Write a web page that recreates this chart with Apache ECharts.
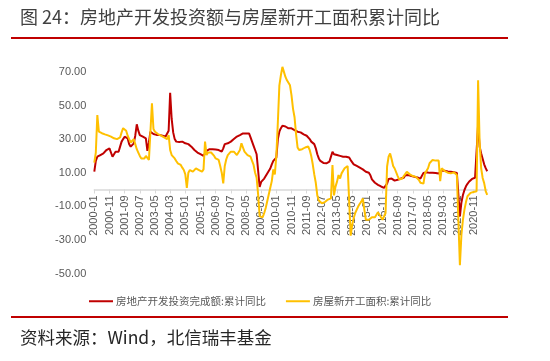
<!DOCTYPE html>
<html>
<head>
<meta charset="utf-8">
<script src="https://cdn.jsdelivr.net/npm/echarts@6/dist/echarts.min.js"></script>
<style>
html,body{margin:0;padding:0;background:#fff;}
#c{width:550px;height:361px;}
</style>
</head>
<body>
<div id="c"></div>
<script>
// ---- data (monthly, 2000-01 .. 2021-08) ----
var startYear = 2000, startMonth = 1, monthCount = 260;
var titleText = '图 24：房地产开发投资额与房屋新开工面积累计同比';
var sourceText = '资料来源：Wind，北信瑞丰基金';
var seriesNames = ['房地产开发投资完成额:累计同比', '房屋新开工面积:累计同比'];
var yTickLabels = [-50, -30, -10, 10, 30, 50, 70];

// 房地产开发投资完成额:累计同比
var investYoY = [
  10.6, 17, 19.5, 20, 20.5, 21, 21.5, 22.5, 23.5, 24.5, 24.5, 23.5,      // 2000
  19.5, 21, 22.5, 22.5, 22.5, 25.5, 28.5, 30, 31.4, 31, 30.4, 27,        // 2001
  25.5, 26.5, 27.5, 32, 38.8, 35, 32.4, 32, 31.4, 31, 30.4, 23,          // 2002
  28, 34.4, 33.5, 33, 33, 32.5, 32.4, 32.5, 32.4, 32, 31.4, 31.5,        // 2003
  32, 35, 57.6, 42, 34, 30, 28.5, 28, 28.3, 28.5, 28.5, 28,              // 2004
  27.5, 27.5, 27, 26.5, 25.5, 24.5, 23.5, 22.5, 22, 21.5, 21, 20.5,      // 2005
  20, 21.5, 23, 24, 24, 24, 24, 24, 23.8, 23.5, 23.5, 23,                // 2006
  22.5, 24.5, 27, 27.5, 27.5, 28, 28.5, 29.5, 30, 30.4, 31.5, 32.4,      // 2007
  32.4, 32, 33.4, 33, 33.4, 33.4, 33.4, 31, 28.5, 26, 23.5, 21,          // 2008
  20.5, 1.5, 4.5, 5, 6.5, 8, 9.5, 10.6, 12.5, 15, 17, 18,                // 2009
  19, 30, 34.4, 36.5, 38, 38, 37.5, 36.8, 36.4, 36.4, 36.4, 35.8,        // 2010
  35.4, 35, 34.4, 34.2, 34, 33.5, 32.8, 32.5, 32, 31.4, 30, 28.5,        // 2011
  28.5, 27, 24.5, 21, 18.5, 17, 16.2, 15.8, 15.6, 15.6, 16.2, 16.6,      // 2012
  17, 22.5, 21, 21, 20.5, 20.5, 20, 19.5, 19.5, 19.5, 19.5, 19.5,        // 2013
  19, 17.5, 16.5, 15, 14.5, 14, 13.6, 13, 12.6, 12, 11, 10.6,            // 2014
  10.4, 10, 8.5, 6, 5, 4, 3.5, 2.8, 2.3, 1.8, 1.2, 1,                    // 2015
  1, 3.5, 6.3, 6.8, 6.5, 6, 5.3, 5.3, 5.8, 6.3, 6.5, 6.9,                // 2016
  7, 8.5, 8.8, 8.6, 8.3, 8, 7.8, 7.6, 7.5, 7.2, 6.8, 6.5,                // 2017
  7, 9.9, 10.4, 10.3, 10.2, 9.9, 10.1, 10, 9.9, 9.8, 9.7, 9.5,           // 2018
  9.5, 11.2, 11.5, 11.2, 10.9, 10.7, 10.5, 10.5, 10.5, 10.3, 10.2, 9.9,  // 2019
  9.9, -16, -7.7, -3.3, -0.3, 1.9, 3.4, 4.6, 5.6, 6.3, 6.8, 7,           // 2020
  7, 38.5, 25.6, 21.6, 18.3, 15, 12.7, 10.9                              // 2021
];

// 房屋新开工面积:累计同比
var newStartYoY = [
  16, 22, 44.3, 34.4, 34, 33.5, 33, 32.8, 32.5, 32.2, 32, 31.5,          // 2000
  31, 30.5, 30.4, 30, 30, 31, 34, 36.5, 37.4, 35, 32, 30,                // 2001
  28, 29, 30, 27, 24, 22, 20, 18.5, 18, 18.5, 20, 20.5,                  // 2002
  17.6, 18, 51.3, 36, 34.4, 33.5, 33, 32.4, 32, 31.5, 31, 30,            // 2003
  30, 32.4, 23.5, 20.5, 19.5, 18.5, 17, 15.6, 15, 14.6, 13, 11.6,        // 2004
  9, 1, 10, 11.6, 11.6, 10.6, 11.5, 12.6, 12, 11.6, 11, 10.6,            // 2005
  12, 28.5, 20.5, 22, 22.5, 22, 21.5, 20, 18.5, 18, 17.6, 14,            // 2006
  10, 3.6, 14, 18, 20.5, 21.5, 22.5, 22.5, 22.5, 22, 20.5, 19.5,         // 2007
  23.5, 27.5, 25, 22.5, 21.5, 20.5, 20, 19.5, 17, 14.6, 10, 7,           // 2008
  -3, -16, -17, -16.5, -14, -11, -7, -3, 1, 5, 12, 9,                    // 2009
  20, 40, 62, 68, 73, 70, 67, 65, 64, 62, 56, 48,                        // 2010
  43, 33, 25, 23.5, 23.5, 24, 24.5, 25, 25.5, 25.6, 23.5, 20,            // 2011
  15, 9, 4, -3.5, -6.5, -7.5, -8.2, -8, -7.5, -6.5, -6, -5.5,            // 2012
  -5.3, 14.6, -3.5, 1.7, 4.7, 8.6, 6.5, 9.6, 10.6, 12.6, 13.6, 14,       // 2013
  13, -27.5, -21, -17, -14, -12, -10, -8.5, -7.2, -5.3, -12, -18,        // 2014
  -17, -18, -17.5, -16.5, -16, -16.5, -17, -13.5, -15, -16, -18, -18,    // 2015
  -14, 13.7, 19.5, 21.4, 18, 14, 12.5, 12.2, 8, 6, 6, 6.5,               // 2016
  8, 9, 10.5, 11, 9, 8.6, 8, 7.7, 7.5, 7, 5.7, 4,                        // 2017
  3, 3.5, 9.6, 10.5, 12.6, 15.6, 16.2, 17.6, 17.6, 17.2, 17.6, 17.2,     // 2018
  5, 12.6, 13, 11, 10.6, 10, 9.8, 9.6, 9.6, 10.2, 9.6, 8.6,              // 2019
  8.5, -45, -27, -18, -12, -7.5, -4, -3, -2, -2, -1.5, -1.2,             // 2020
  -1, 65, 28.2, 12.8, 6.9, 3.8, -0.9, -3.2                               // 2021
];

var categories = [];
for (var i = 0; i < monthCount; i++) {
  var y = startYear + Math.floor((startMonth - 1 + i) / 12);
  var m = (startMonth - 1 + i) % 12 + 1;
  categories.push(y + '-' + (m < 10 ? '0' + m : m));
}

var RED = '#C00000', YELLOW = '#FFC000';
var chart = echarts.init(document.getElementById('c'), null, {renderer: 'canvas'});
chart.setOption({
  animation: false,
  backgroundColor: '#ffffff',
  grid: {left: 94.3, right: 62.8, top: 55.1, bottom: 87.5, containLabel: false},
  graphic: [
    {type: 'text', left: 20, top: 8, style: {text: titleText, fill: '#404040', font: '18px "Noto Sans CJK SC", sans-serif'}},
    {type: 'rect', shape: {x: 11, y: 37, width: 497, height: 2}, style: {fill: RED}},
    {type: 'rect', shape: {x: 11, y: 316, width: 497, height: 2}, style: {fill: RED}},
    {type: 'text', left: 20, top: 329, style: {text: sourceText, fill: '#262626', font: '17.5px "Noto Sans CJK SC", sans-serif'}}
  ],
  legend: {
    left: 84, top: 291,
    icon: 'rect', itemWidth: 24, itemHeight: 2, itemGap: 20,
    textStyle: {color: '#595959', fontSize: 10.5, fontFamily: '"Noto Sans CJK SC", sans-serif', padding: [0, 0, 0, -2]},
    data: seriesNames
  },
  xAxis: {
    type: 'category',
    data: categories,
    boundaryGap: false,
    offset: -84,
    axisLine: {onZero: false, lineStyle: {color: '#D9D9D9', width: 1.5}},
    axisTick: {show: true, interval: 9, length: 4, lineStyle: {color: '#D9D9D9'}},
    axisLabel: {interval: 9, rotate: 90, color: '#595959', fontSize: 11, margin: 6, fontFamily: 'Liberation Sans, Arial, sans-serif'},
    splitLine: {show: false}
  },
  yAxis: {
    type: 'value',
    min: -50, max: 80, interval: 10,
    axisLine: {show: false},
    axisTick: {show: false},
    splitLine: {show: false},
    axisLabel: {
      color: '#595959', fontSize: 11, margin: 8, fontFamily: 'Liberation Sans, Arial, sans-serif',
      formatter: function (v) { return yTickLabels.indexOf(v) >= 0 ? v.toFixed(2) : ''; }
    }
  },
  series: [
    {name: seriesNames[0], type: 'line', data: investYoY, showSymbol: false, symbol: 'none',
     lineStyle: {color: RED, width: 2}, itemStyle: {color: RED}},
    {name: seriesNames[1], type: 'line', data: newStartYoY, showSymbol: false, symbol: 'none',
     lineStyle: {color: YELLOW, width: 2}, itemStyle: {color: YELLOW}}
  ]
});
</script>
</body>
</html>
